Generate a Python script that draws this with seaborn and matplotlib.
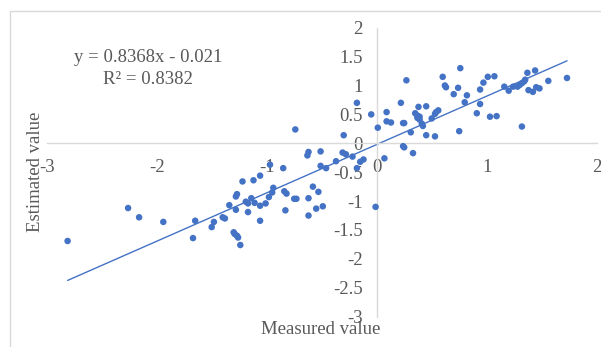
import numpy as np
import pandas as pd
import seaborn as sns
import matplotlib.pyplot as plt
from matplotlib.patches import Rectangle

# Points
measured = [-2.81, -2.26, -2.16, -1.94, -1.65, -1.67, -1.50, -1.48, -1.40, -1.38,
            -1.34, -1.28, -1.27, -1.28, -1.22, -1.12, -1.06, -0.97, -0.85, -1.19,
            -1.17, -1.14, -1.11, -1.06, -1.01, -0.98, -0.95, -0.94, -0.84, -0.82,
            -0.75, -0.73, -1.17, -0.83, -1.06, -1.30, -1.29, -1.27, -1.26, -1.24,
            -0.74, -0.62, -0.63, -0.51, -0.51, -0.46, -0.37, -0.31, -0.28, -0.22,
            -0.18, -0.15, -0.12, -0.30, -0.18, -0.05, 0.01, 0.07, -0.58, -0.53,
            -0.62, -0.49, -0.55, -0.62, -0.01, 0.09, 0.09, 0.13, 0.22, 0.24,
            0.25, 0.27, 0.24, 0.25, 0.31, 0.33, 0.35, 0.37, 0.39, 0.37,
            0.39, 0.41, 0.42, 0.38, 0.45, 0.45, 0.50, 0.53, 0.54, 0.56,
            0.53, 0.60, 0.62, 0.63, 0.70, 0.74, 0.76, 0.75, 0.80, 0.82,
            0.91, 0.94, 0.94, 0.97, 1.01, 1.07, 1.03, 1.09, 1.16, 1.20,
            1.24, 1.28, 1.30, 1.32, 1.34, 1.35, 1.37, 1.44, 1.38, 1.42,
            1.45, 1.48, 1.56, 1.73, 1.32]
estimated = [-1.69, -1.12, -1.28, -1.36, -1.34, -1.64, -1.45, -1.36, -1.28, -1.30,
             -1.07, -1.15, -0.88, -0.92, -0.66, -0.64, -0.56, -0.37, -0.43, -1.01,
             -1.04, -0.95, -1.03, -1.08, -1.04, -0.93, -0.85, -0.77, -0.83, -0.87,
             -0.96, -0.96, -1.19, -1.16, -1.34, -1.54, -1.57, -1.60, -1.63, -1.76,
             0.24, -0.15, -0.21, -0.14, -0.39, -0.43, -0.31, -0.16, -0.19, -0.23,
             -0.43, -0.32, -0.28, 0.14, 0.70, 0.50, 0.27, -0.26, -0.75, -0.84,
             -0.95, -1.09, -1.13, -1.25, -1.10, 0.54, 0.38, 0.36, 0.70, 0.35,
             0.35, 1.09, -0.05, -0.07, 0.19, -0.17, 0.52, 0.48, 0.46, 0.44,
             0.41, 0.34, 0.30, 0.63, 0.64, 0.14, 0.43, 0.51, 0.54, 0.57,
             0.12, 1.15, 1.00, 0.97, 0.85, 0.96, 1.30, 0.21, 0.71, 0.83,
             0.52, 0.68, 0.93, 1.05, 1.15, 1.16, 0.46, 0.47, 0.98, 0.91,
             0.98, 0.98, 1.01, 1.04, 1.07, 1.10, 1.22, 1.26, 0.92, 0.89,
             0.97, 0.95, 1.08, 1.13, 0.29]

slope = 0.8368
intercept = -0.021
r2 = 0.8382

x_ticks = [-3, -2, -1, 0, 1, 2]
x_labels = ["-3", "-2", "-1", "0", "1", "2"]
y_ticks = [2, 1.5, 1, 0.5, 0, -0.5, -1, -1.5, -2, -2.5, -3]
y_labels = ["2", "1.5", "1", "0.5", "0", "-0.5", "-1", "-1.5", "-2", "-2.5", "-3"]

df = pd.DataFrame({"measured": measured, "estimated": estimated})
xs = np.array([min(measured), max(measured)])
trend = pd.DataFrame({"x": xs, "y": slope * xs + intercept})

sns.set_style("white")
plt.rcParams["font.family"] = ["Liberation Serif", "DejaVu Serif"]
plt.rcParams["axes.unicode_minus"] = False

blue = "#4472C4"
grey = "#595959"
line_grey = "#d9d9d9"

fig = plt.figure(figsize=(6.01, 3.47), dpi=100)
fig.patches.append(Rectangle((10 / 601, -0.1), 1.1, (347 - 11) / 347 + 0.1,
                             transform=fig.transFigure, fill=False,
                             edgecolor=line_grey, linewidth=1))
ax = fig.add_axes([46.7 / 601, 30.3 / 347, 550 / 601, 289 / 347])
ax.patch.set_alpha(0)

sns.scatterplot(data=df, x="measured", y="estimated", ax=ax, s=22,
                color=blue, edgecolor="none", zorder=3)
sns.lineplot(data=trend, x="x", y="y", ax=ax, color=blue, linewidth=1.0, zorder=2)

ax.set_xlim(-3, 2)
ax.set_ylim(-3, 2)
ax.spines["left"].set_position(("data", 0))
ax.spines["bottom"].set_position(("data", 0))
ax.spines["top"].set_visible(False)
ax.spines["right"].set_visible(False)
for side in ["left", "bottom"]:
    ax.spines[side].set_color(line_grey)
    ax.spines[side].set_linewidth(1)

ax.set_xticks(x_ticks)
ax.set_xticklabels(x_labels)
ax.set_yticks(y_ticks)
ax.set_yticklabels(y_labels)
ax.tick_params(axis="both", length=0, labelsize=13.5, labelcolor=grey)
ax.tick_params(axis="y", pad=10)
ax.tick_params(axis="x", pad=11)
ax.set_xlabel("")
ax.set_ylabel("")

fig.text(321 / 601, 1 - 330 / 347, "Measured value", ha="center", va="center",
         fontsize=13.5, color=grey)
fig.text(35 / 601, 1 - 172 / 347, "Estimated value", ha="center", va="center",
         rotation=90, fontsize=13.5, color=grey)
fig.text(148 / 601, 1 - 57 / 347, f"y = {slope}x - {abs(intercept)}",
         ha="center", va="center", fontsize=13.5, color=grey)
fig.text(148 / 601, 1 - 79 / 347, f"R² = {r2}",
         ha="center", va="center", fontsize=13.5, color=grey)

plt.savefig("out.png", dpi=100)
